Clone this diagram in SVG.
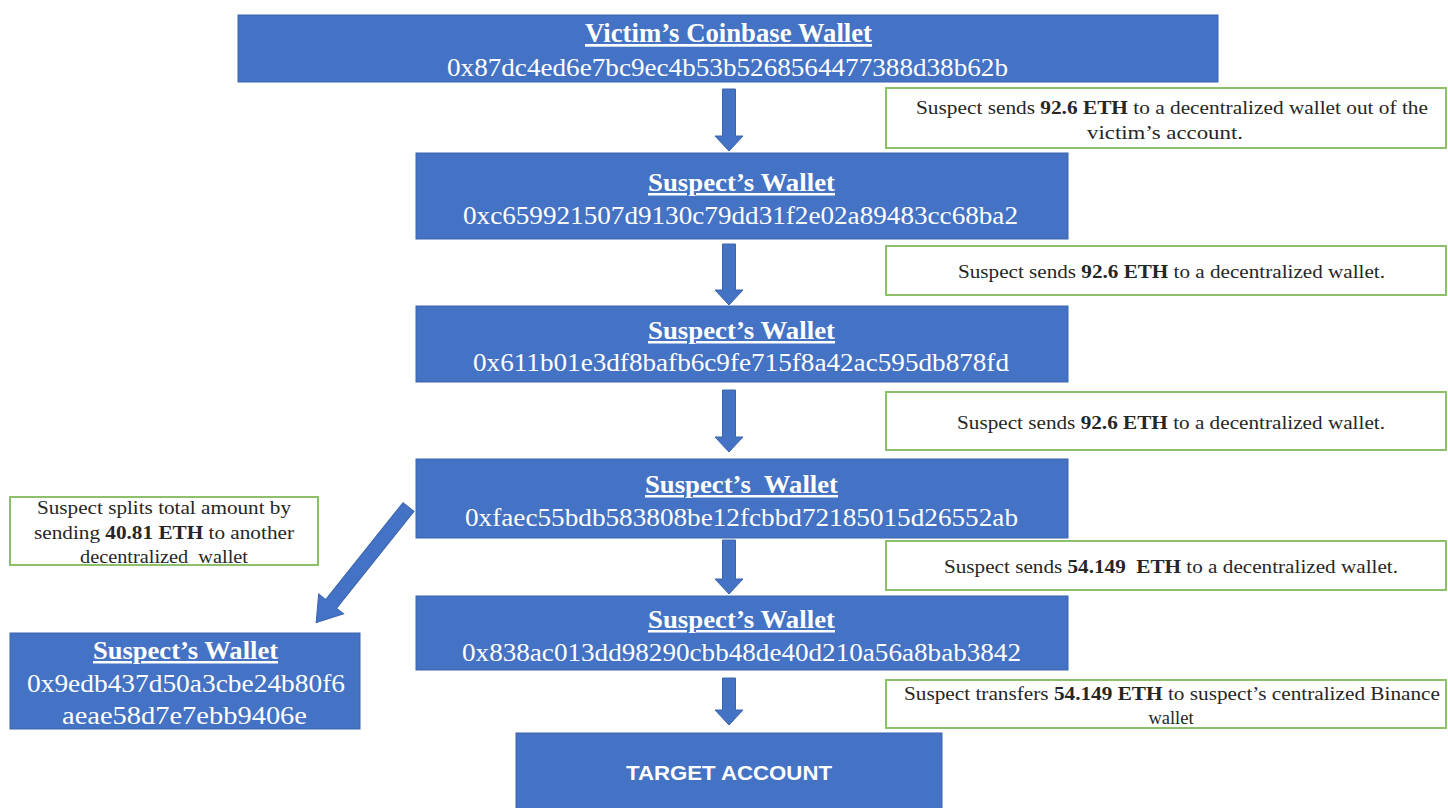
<svg xmlns="http://www.w3.org/2000/svg" width="1448" height="808" viewBox="0 0 1448 808">
<style>
.box{fill:#4472C4;stroke:#3B64AE;stroke-width:1}
.note{fill:#FFFFFF;stroke:#8CC06A;stroke-width:2}
.t{font-family:"Liberation Serif","Times New Roman",serif;fill:#FFFFFF;text-anchor:middle}
.ttl{font-weight:bold;text-decoration:underline}
.n{font-family:"Liberation Serif","Times New Roman",serif;fill:#262626;font-size:18.5px;text-anchor:middle}
.arrow{fill:#4472C4;stroke:#3B64AE;stroke-width:1}
</style>
<rect width="1448" height="808" fill="#FFFFFF"/>
<g id="connectors">
  <polygon class="arrow" points="722.5,89 735.5,89 735.5,136 743,136 729,151 715,136 722.5,136"/>
  <polygon class="arrow" points="722.5,244 735.5,244 735.5,290 743,290 729,305 715,290 722.5,290"/>
  <polygon class="arrow" points="722.5,390 735.5,390 735.5,437 743,437 729,452 715,437 722.5,437"/>
  <polygon class="arrow" points="722.5,540 735.5,540 735.5,579 743,579 729,594 715,579 722.5,579"/>
  <polygon class="arrow" points="722.5,678 735.5,678 735.5,710 743,710 729,725 715,710 722.5,710"/>
  <polygon class="arrow" transform="translate(408.5,507) rotate(128.6)" points="0,-7 124,-7 124,-16 148,0 124,16 124,7 0,7"/>
</g>
<g id="victim-wallet">
  <rect class="box" x="238" y="15" width="980" height="67"/>
  <text class="t ttl" x="728.5" y="42" font-size="27" textLength="287" lengthAdjust="spacingAndGlyphs">Victim’s Coinbase Wallet</text>
  <text class="t" x="727.5" y="76" font-size="26" textLength="561" lengthAdjust="spacingAndGlyphs">0x87dc4ed6e7bc9ec4b53b5268564477388d38b62b</text>
</g>
<g id="note-1">
  <rect class="note" x="886" y="88" width="560" height="60"/>
  <text class="n" x="1172" y="114" textLength="512" lengthAdjust="spacingAndGlyphs">Suspect sends <tspan font-weight="bold">92.6 ETH</tspan> to a decentralized wallet out of the</text>
  <text class="n" x="1165" y="139" textLength="156" lengthAdjust="spacingAndGlyphs">victim’s account.</text>
</g>
<g id="suspect-wallet-1">
  <rect class="box" x="416" y="153" width="652" height="86"/>
  <text class="t ttl" x="741.5" y="191" font-size="25" textLength="187" lengthAdjust="spacingAndGlyphs">Suspect’s Wallet</text>
  <text class="t" x="740.5" y="224" font-size="25" textLength="555" lengthAdjust="spacingAndGlyphs">0xc659921507d9130c79dd31f2e02a89483cc68ba2</text>
</g>
<g id="note-2">
  <rect class="note" x="886" y="246" width="560" height="49"/>
  <text class="n" x="1171.5" y="278" textLength="427" lengthAdjust="spacingAndGlyphs">Suspect sends <tspan font-weight="bold">92.6 ETH</tspan> to a decentralized wallet.</text>
</g>
<g id="suspect-wallet-2">
  <rect class="box" x="416" y="306" width="652" height="76"/>
  <text class="t ttl" x="741.5" y="339" font-size="25" textLength="187" lengthAdjust="spacingAndGlyphs">Suspect’s Wallet</text>
  <text class="t" x="741" y="371" font-size="25" textLength="536" lengthAdjust="spacingAndGlyphs">0x611b01e3df8bafb6c9fe715f8a42ac595db878fd</text>
</g>
<g id="note-3">
  <rect class="note" x="886" y="392" width="560" height="58"/>
  <text class="n" x="1171" y="429" textLength="428" lengthAdjust="spacingAndGlyphs">Suspect sends <tspan font-weight="bold">92.6 ETH</tspan> to a decentralized wallet.</text>
</g>
<g id="suspect-wallet-3">
  <rect class="box" x="416" y="459" width="652" height="79"/>
  <text class="t ttl" x="741.5" y="493" font-size="25" textLength="193" lengthAdjust="spacingAndGlyphs" xml:space="preserve">Suspect’s  Wallet</text>
  <text class="t" x="741.5" y="526" font-size="25" textLength="553" lengthAdjust="spacingAndGlyphs">0xfaec55bdb583808be12fcbbd72185015d26552ab</text>
</g>
<g id="note-4">
  <rect class="note" x="886" y="541" width="560" height="49"/>
  <text class="n" x="1171" y="573" textLength="454" lengthAdjust="spacingAndGlyphs" xml:space="preserve">Suspect sends <tspan font-weight="bold">54.149  ETH</tspan> to a decentralized wallet.</text>
</g>
<g id="suspect-wallet-4">
  <rect class="box" x="416" y="596" width="652" height="74"/>
  <text class="t ttl" x="741.5" y="628" font-size="25" textLength="187" lengthAdjust="spacingAndGlyphs">Suspect’s Wallet</text>
  <text class="t" x="741.5" y="661" font-size="25" textLength="559" lengthAdjust="spacingAndGlyphs">0x838ac013dd98290cbb48de40d210a56a8bab3842</text>
</g>
<g id="note-5">
  <rect class="note" x="886" y="680" width="560" height="48"/>
  <text class="n" x="1172" y="700" textLength="536" lengthAdjust="spacingAndGlyphs">Suspect transfers <tspan font-weight="bold">54.149 ETH</tspan> to suspect’s centralized Binance</text>
  <text class="n" x="1171" y="724">wallet</text>
</g>
<g id="note-split">
  <rect class="note" x="10" y="497" width="308" height="68"/>
  <text class="n" x="164" y="514" textLength="254" lengthAdjust="spacingAndGlyphs">Suspect splits total amount by</text>
  <text class="n" x="164" y="539" textLength="260" lengthAdjust="spacingAndGlyphs">sending <tspan font-weight="bold">40.81 ETH</tspan> to another</text>
  <text class="n" x="164" y="563" textLength="168" lengthAdjust="spacingAndGlyphs" xml:space="preserve">decentralized  wallet</text>
</g>
<g id="suspect-wallet-5">
  <rect class="box" x="10" y="633" width="350" height="96"/>
  <text class="t ttl" x="185.5" y="659" font-size="25" textLength="185" lengthAdjust="spacingAndGlyphs">Suspect’s Wallet</text>
  <text class="t" x="186" y="692" font-size="25" textLength="318" lengthAdjust="spacingAndGlyphs">0x9edb437d50a3cbe24b80f6</text>
  <text class="t" x="184.5" y="724" font-size="25" textLength="245" lengthAdjust="spacingAndGlyphs">aeae58d7e7ebb9406e</text>
</g>
<g id="target-account">
  <rect class="box" x="516" y="733" width="426" height="80"/>
  <text x="729" y="780" font-family="'Liberation Sans', Arial, sans-serif" font-weight="bold" font-size="21" fill="#FFFFFF" text-anchor="middle" textLength="206" lengthAdjust="spacingAndGlyphs">TARGET ACCOUNT</text>
</g>
</svg>
